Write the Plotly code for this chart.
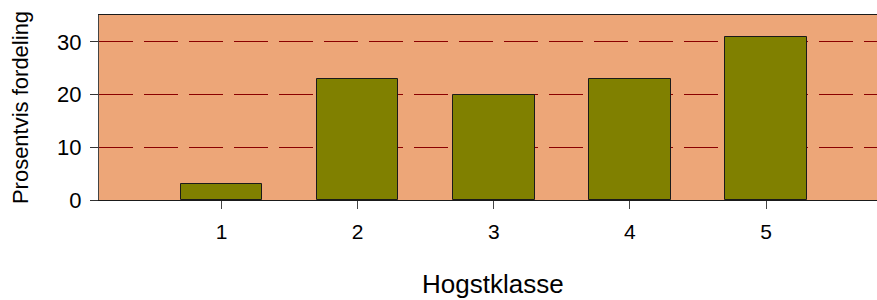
import plotly.graph_objects as go

categories = [1, 2, 3, 4, 5]
values = [3, 23, 20, 23, 31]
y_ticks = [0, 10, 20, 30]
x_title = "Hogstklasse"
y_title = "Prosentvis fordeling"

FONT = "Liberation Sans, Arial, sans-serif"

fig = go.Figure()
fig.add_trace(go.Bar(
    x=categories, y=values, width=0.6,
    marker=dict(color="#808000", line=dict(color="#1a1a1a", width=1)),
    hoverinfo="x+y",
))

fig.update_layout(
    width=877, height=300,
    margin=dict(l=99, r=0, t=15, b=100),
    paper_bgcolor="white",
    plot_bgcolor="#EDA678",
    showlegend=False,
    font=dict(family=FONT, color="black"),
    bargap=0,
)
fig.add_annotation(
    text=x_title, xref="paper", yref="paper",
    x=0.507, y=-0.454, xanchor="center", yanchor="middle",
    showarrow=False, font=dict(size=26),
)
fig.update_xaxes(
    range=[0.1, 5.815],
    tickvals=categories,
    ticktext=[str(c) for c in categories],
    ticks="outside", ticklen=8, tickwidth=1, tickcolor="#444",
    tickfont=dict(size=21), ticklabelstandoff=5,
    showgrid=False, zeroline=False,
    showline=True, linecolor="#1a1a1a", linewidth=1, mirror=True,
)
fig.update_yaxes(
    range=[0, 35.1],
    tickvals=y_ticks,
    ticks="outside", ticklen=8, tickwidth=1, tickcolor="#333",
    tickfont=dict(size=22), ticklabelstandoff=4,
    showgrid=True, gridcolor="#8B0000", griddash="34px,11px", gridwidth=1,
    zeroline=False,
    showline=True, linecolor="#444", linewidth=1, mirror=True,
    title=dict(text=y_title, font=dict(size=22), standoff=22),
)

fig.write_html("out.html", config={"displayModeBar": False},
               post_script="document.body.style.margin='0';")
